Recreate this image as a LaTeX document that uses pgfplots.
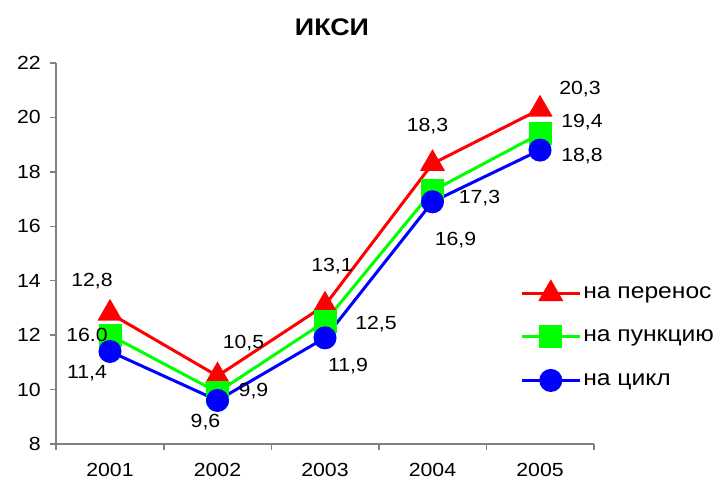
\documentclass[border=0pt]{standalone}
\usepackage{pgfplots}
\pgfplotsset{compat=1.18}
\usepackage{pgfplotstable}
\usepackage{fontspec}
\setmainfont{Liberation Sans}[FakeStretch=1.12]

\pgfplotstableread{
x y lab dx dy
0 12.8 12,8 -18 32
1 10.5 10,5 26 33
2 13.1 13,1 7 39
3 18.3 18,3 -5 38
4 20.3 20,3 40 20
}\redtab
\pgfplotstableread{
x y lab dx dy
0 12.0 16.0 -23 0
1 9.9 9,9 36 1
2 12.5 12,5 51 -3
3 17.3 17,3 47 -7
4 19.4 19,4 42 12
}\greentab
\pgfplotstableread{
x y lab dx dy
0 11.4 11,4 -23 -22
1 9.6 9,6 -12 -22
2 11.9 11,9 23 -28
3 16.9 16,9 23 -38
4 18.8 18,8 42 -6
}\bluetab

\definecolor{axgray}{RGB}{128,128,128}

\begin{document}
\begin{tikzpicture}
\useasboundingbox (-56.25pt,-38pt) rectangle (670.75pt,444pt);
\begin{axis}[
  at={(0,0)}, anchor=south west,
  scale only axis, width=537.5pt, height=381pt,
  xmin=-0.5, xmax=4.5, ymin=8, ymax=22,
  ytick={8,10,...,22},
  xtick={0,1,2,3,4}, xticklabels={2001,2002,2003,2004,2005},
  minor xtick={-0.5,0.5,1.5,2.5,3.5,4.5},
  axis x line*=bottom, axis y line*=left,
  axis line style={draw=axgray, line width=1.5pt},
  tick align=outside,
  major tick length=6pt, minor tick length=6pt,
  every tick/.style={draw=axgray, line width=1.5pt},
  major x tick style={draw=none},
  /pgf/number format/assume math mode=true,
  tick label style={font=\fontsize{19}{22}\selectfont, text=black},
  yticklabel style={xshift=-6pt},
  xticklabel style={yshift=-10pt},
  clip=false,
  title={ИКСИ},
  title style={font=\bfseries\fontsize{24}{28}\selectfont, at={(0.513,1.079)}, anchor=center},
  legend style={draw=none, fill=none, at={(0.863,0.425)}, anchor=north west,
    font=\fontsize{22}{25}\selectfont, row sep=24pt, inner sep=0pt},
  legend cell align=left,
  legend image code/.code={\draw[mark repeat=2,mark phase=2,#1] plot coordinates {(0pt,0pt) (29pt,0pt) (58pt,0pt)};},
  point meta=explicit symbolic,
  nodes near coords,
  visualization depends on={\thisrow{dx} \as \dx},
  visualization depends on={\thisrow{dy} \as \dy},
  nodes near coords style={anchor=center, text=black, font=\fontsize{19}{22}\selectfont, xshift=\dx, yshift=\dy},
]
\addplot[red, line width=3pt, mark=triangle*, mark size=11.5pt, mark options={solid}] table[x=x, y=y, meta=lab] {\redtab};
\addlegendentry{на перенос}
\addplot[green, line width=3pt, mark=square*, mark size=10pt] table[x=x, y=y, meta=lab] {\greentab};
\addlegendentry{на пункцию}
\addplot[blue, line width=3pt, mark=*, mark size=10pt] table[x=x, y=y, meta=lab] {\bluetab};
\addlegendentry{на цикл}
\end{axis}
\end{tikzpicture}
\end{document}
